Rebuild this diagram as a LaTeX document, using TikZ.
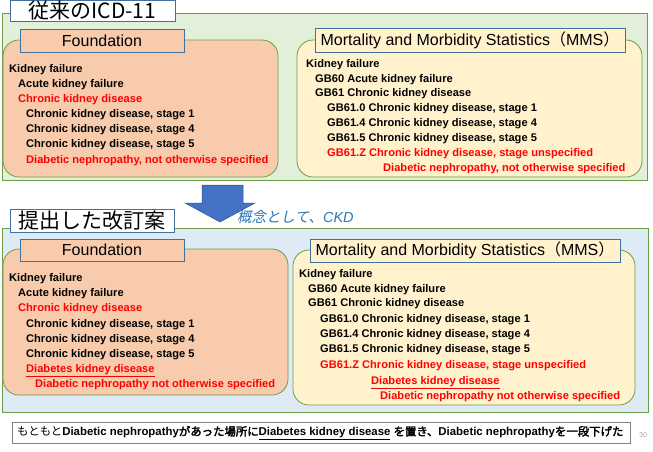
\documentclass[tikz,border=0pt]{standalone}
\usepackage{fontspec}
\setmainfont{Liberation Sans}
\newfontfamily\cjk{Noto Sans CJK JP}[AutoFakeBold=2.5]
\newfontfamily\cjkit{Noto Sans CJK JP}[FakeSlant=0.2]
\definecolor{greenfill}{HTML}{E2F0D9}
\definecolor{greenline}{HTML}{6B9E47}
\definecolor{bluefill}{HTML}{DEEBF7}
\definecolor{peach}{HTML}{F8CBAD}
\definecolor{cream}{HTML}{FFF2CC}
\definecolor{labline}{HTML}{41719C}
\definecolor{arrowfill}{HTML}{4472C4}
\definecolor{arrowline}{HTML}{2F528F}
\definecolor{notetext}{HTML}{2E75B6}
\definecolor{redtext}{HTML}{FF0000}
\begin{document}
\begin{tikzpicture}[x=1pt,y=-1pt,
  panel/.style={draw=greenline, line width=0.9pt, inner sep=0pt},
  rbox/.style={draw=greenline, line width=0.8pt, rounded corners=16pt, inner sep=0pt},
  lab/.style={draw=labline, line width=0.8pt, inner sep=0pt, font=\fontsize{16}{18}\selectfont},
  ttl/.style={draw=labline, line width=0.8pt, fill=white, inner sep=0pt, font=\cjk\fontsize{21}{24}\selectfont},
  itm/.style={anchor=base west, inner sep=0pt, font=\bfseries\fontsize{11.1}{13}\selectfont},
  red/.style={text=redtext}]
\useasboundingbox (0,0) rectangle (653,451);

% ---------- top section ----------
\node[panel, fill=greenfill, minimum width=645pt, minimum height=167pt] (toppanel) at (324.5,96.5) {};
\node[ttl, minimum width=165pt, minimum height=21pt] (toptitle) at (92.5,10.8) {従来のICD-11};
\node[rbox, fill=peach, minimum width=275pt, minimum height=137pt] (tfbox) at (140.5,108.5) {};
\node[lab, fill=peach, minimum width=164pt, minimum height=23pt] (tflab) at (102,40.5) {Foundation};
\node[rbox, fill=cream, minimum width=345pt, minimum height=137pt] (tmbox) at (469.5,108.5) {};
\node[lab, fill=cream, minimum width=310pt, minimum height=24pt] (tmlab) at (470,40) {Mortality and Morbidity Statistics{\cjk（}MMS{\cjk）}};

\node[itm] (tf1) at (9,72) {Kidney failure};
\node[itm] (tf2) at (18,87) {Acute kidney failure};
\node[itm,red] (tf3) at (18,102) {Chronic kidney disease};
\node[itm] (tf4) at (26,117) {Chronic kidney disease, stage 1};
\node[itm] (tf5) at (26,132) {Chronic kidney disease, stage 4};
\node[itm] (tf6) at (26,147) {Chronic kidney disease, stage 5};
\node[itm,red] (tf7) at (26,163) {Diabetic nephropathy, not otherwise specified};

\node[itm] (tm1) at (306,67) {Kidney failure};
\node[itm] (tm2) at (315,82) {GB60 Acute kidney failure};
\node[itm] (tm3) at (315,96) {GB61 Chronic kidney disease};
\node[itm] (tm4) at (327,111) {GB61.0 Chronic kidney disease, stage 1};
\node[itm] (tm5) at (327,126) {GB61.4 Chronic kidney disease, stage 4};
\node[itm] (tm6) at (327,141) {GB61.5 Chronic kidney disease, stage 5};
\node[itm,red] (tm7) at (327,156) {GB61.Z Chronic kidney disease, stage unspecified};
\node[itm,red] (tm8) at (383,171) {Diabetic nephropathy, not otherwise specified};

% ---------- arrow ----------
\filldraw[fill=arrowfill, draw=arrowline, line width=0.5pt]
  (202,185) -- (243,185) -- (243,203) -- (255,203) -- (220,222) -- (185,203) -- (202,203) -- cycle;
\node[anchor=west, inner sep=0pt, text=notetext, font=\fontsize{14.5}{16}\selectfont] (note) at (237,217) {{\cjkit 概念として、}\itshape CKD};

% ---------- bottom section ----------
\node[panel, fill=bluefill, minimum width=646pt, minimum height=184pt] (botpanel) at (325,320) {};
\node[ttl, minimum width=164pt, minimum height=23pt] (bottitle) at (92,220.5) {提出した改訂案};
\node[rbox, fill=peach, minimum width=285pt, minimum height=146pt] (bfbox) at (145.5,322) {};
\node[lab, fill=peach, minimum width=164pt, minimum height=22pt] (bflab) at (102,250) {Foundation};
\node[rbox, fill=cream, minimum width=342pt, minimum height=155pt] (bmbox) at (464,327.5) {};
\node[lab, fill=cream, minimum width=310pt, minimum height=23pt] (bmlab) at (465,250.5) {Mortality and Morbidity Statistics{\cjk（}MMS{\cjk）}};

\node[itm] (bf1) at (9,281) {Kidney failure};
\node[itm] (bf2) at (18,296) {Acute kidney failure};
\node[itm,red] (bf3) at (18,311) {Chronic kidney disease};
\node[itm] (bf4) at (26,327) {Chronic kidney disease, stage 1};
\node[itm] (bf5) at (26,342) {Chronic kidney disease, stage 4};
\node[itm] (bf6) at (26,357) {Chronic kidney disease, stage 5};
\node[itm,red] (bf7) at (26,372) {\underline{Diabetes kidney disease}};
\node[itm,red] (bf8) at (35,387) {Diabetic nephropathy not otherwise specified};

\node[itm] (bm1) at (299,277) {Kidney failure};
\node[itm] (bm2) at (308,292) {GB60 Acute kidney failure};
\node[itm] (bm3) at (308,306) {GB61 Chronic kidney disease};
\node[itm] (bm4) at (320,322) {GB61.0 Chronic kidney disease, stage 1};
\node[itm] (bm5) at (320,337) {GB61.4 Chronic kidney disease, stage 4};
\node[itm] (bm6) at (320,352) {GB61.5 Chronic kidney disease, stage 5};
\node[itm,red] (bm7) at (320,368) {GB61.Z Chronic kidney disease, stage unspecified};
\node[itm,red] (bm8) at (371,384) {\underline{Diabetes kidney disease}};
\node[itm,red] (bm9) at (380,399) {Diabetic nephropathy not otherwise specified};

% ---------- footer ----------
\node[draw=gray, line width=0.6pt, fill=white, minimum width=618pt, minimum height=21pt, inner sep=0pt] (footer) at (321,432.5) {};
\node[anchor=west, inner sep=0pt, font=\fontsize{11.4}{13}\selectfont] (foottext) at (17,433)
  {{\cjk もともと}\bfseries Diabetic nephropathy{\cjk\bfseries があった場所に}\underline{Diabetes kidney disease} {\cjk\bfseries を置き、}Diabetic nephropathy{\cjk\bfseries を一段下げた}};
\node[anchor=west, inner sep=0pt, text=gray!70, font=\fontsize{7}{8}\selectfont] (pagenum) at (639,435) {30};
\end{tikzpicture}
\end{document}
